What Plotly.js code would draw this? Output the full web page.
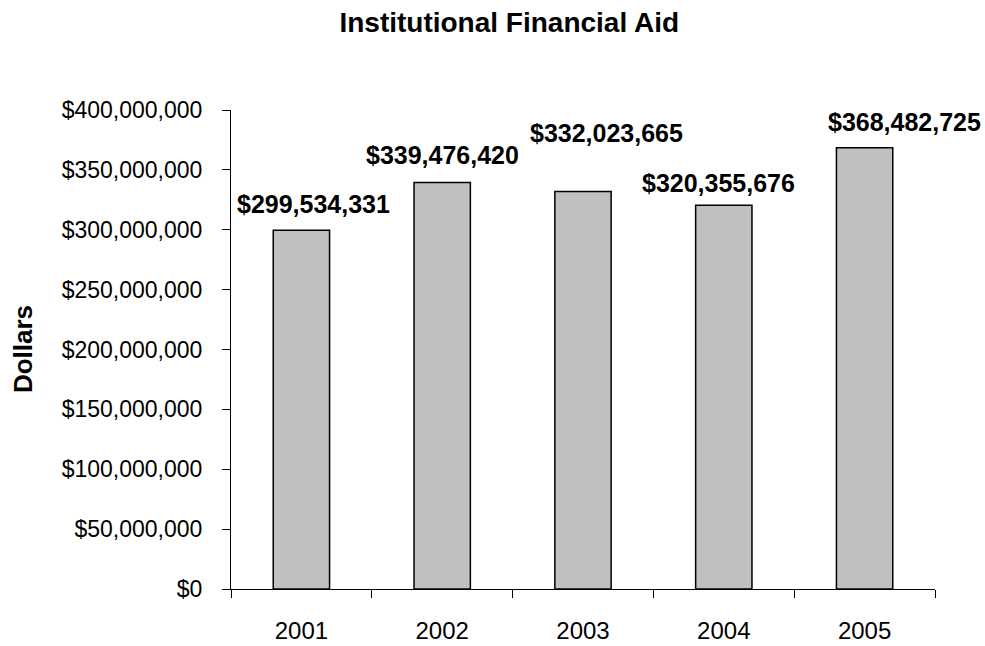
<!DOCTYPE html>
<html>
<head>
<meta charset="utf-8">
<script src="https://cdn.plot.ly/plotly-3.0.1.min.js"></script>
<style>html,body{margin:0;padding:0;background:#fff;}#chart{width:985px;height:646px;}</style>
</head>
<body>
<div id="chart"></div>
<script>
// Data
var years = ['2001', '2002', '2003', '2004', '2005'];
var aidDollars = [299534331, 339476420, 332023665, 320355676, 368482725];
var aidLabels = ['$299,534,331', '$339,476,420', '$332,023,665', '$320,355,676', '$368,482,725'];
var yTickValues = [0, 50000000, 100000000, 150000000, 200000000, 250000000, 300000000, 350000000, 400000000];
var yTickLabels = ['$0', '$50,000,000', '$100,000,000', '$150,000,000', '$200,000,000', '$250,000,000', '$300,000,000', '$350,000,000', '$400,000,000'];

// label placement offsets (px), as the labels were placed in the original
var labelDx = [12, 0, 23, -5, 40];
var labelDy = [26, 27, 58, 22, 26];

var FONT = 'Liberation Sans, Arial, sans-serif';

var trace = {
  type: 'bar',
  x: years,
  y: aidDollars,
  marker: {color: '#C0C0C0', line: {color: '#000000', width: 1.5}},
  hoverinfo: 'none'
};

// annotations reference the category by its index on the category axis
var annotations = years.map(function (yr, i) {
  return {
    x: i, y: aidDollars[i], xref: 'x', yref: 'y',
    text: '<b>' + aidLabels[i] + '</b>',
    showarrow: false, xanchor: 'center', yanchor: 'middle',
    xshift: labelDx[i], yshift: labelDy[i],
    font: {family: FONT, size: 25, color: '#000'}
  };
});
annotations.push({
  xref: 'paper', yref: 'paper', x: -0.296, y: 0.5,
  text: '<b>Dollars</b>', textangle: -90, showarrow: false,
  xanchor: 'center', yanchor: 'middle',
  font: {family: FONT, size: 26, color: '#000'}
});

var layout = {
  width: 985, height: 646,
  margin: {l: 231, r: 50, t: 110, b: 57, pad: 0},
  paper_bgcolor: '#fff', plot_bgcolor: '#fff',
  showlegend: false,
  bargap: 0.6,
  font: {family: FONT, color: '#000'},
  title: {
    text: '<b>Institutional Financial Aid</b>',
    font: {family: FONT, size: 28, color: '#000'},
    x: 0.517, xref: 'container', xanchor: 'center',
    y: 0.966, yref: 'container', yanchor: 'middle'
  },
  xaxis: {
    type: 'category',
    range: [-0.5, 4.5], autorange: false,
    showline: true, linecolor: '#000', linewidth: 1,
    ticks: 'outside', ticklen: 8, tickcolor: '#000', tickwidth: 1,
    tickson: 'boundaries',
    showgrid: false, zeroline: false,
    tickangle: 0,
    tickfont: {family: FONT, size: 24, color: '#000'},
    ticklabelstandoff: 20
  },
  yaxis: {
    range: [0, 400000000], autorange: false,
    tickmode: 'array',
    tickvals: yTickValues,
    ticktext: yTickLabels,
    showline: true, linecolor: '#000', linewidth: 1,
    ticks: 'outside', ticklen: 8, tickcolor: '#000', tickwidth: 1,
    showgrid: false, zeroline: false,
    tickfont: {family: FONT, size: 23, color: '#000'},
    ticklabelstandoff: 15
  },
  annotations: annotations
};

Plotly.newPlot('chart', [trace], layout, {displayModeBar: false, staticPlot: true});
</script>
</body>
</html>
